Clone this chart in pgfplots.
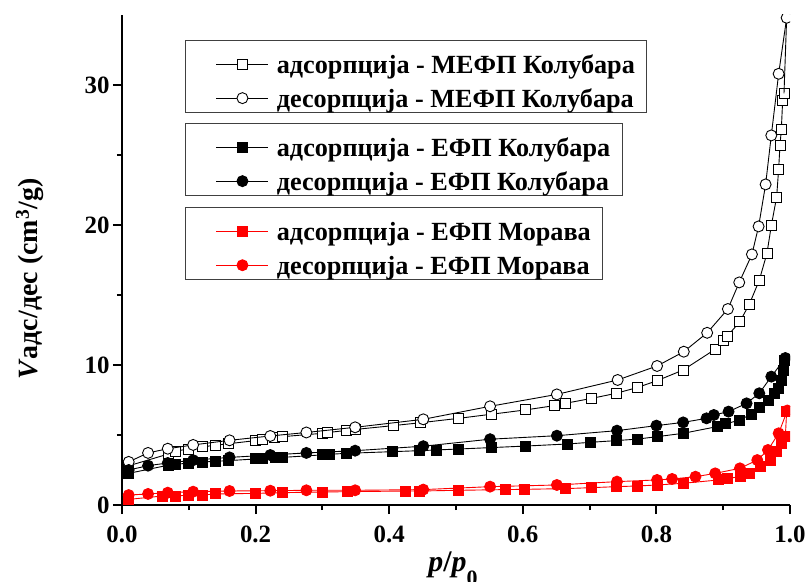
\documentclass[border=0pt]{standalone}
\usepackage{pgfplots}
\pgfplotsset{compat=1.18}
\usepackage{fontspec}
\setmainfont{Liberation Serif}

\pgfplotsset{
  base/.style={
    scale only axis, width=668bp, height=490bp,
    xmin=0, xmax=1, ymin=0, ymax=35,
    clip marker paths=true,
  },
  leg/.style={
    legend cell align=left,
    legend image code/.code={\path[draw=none,fill=none] (0bp,-5bp) -- (19bp,-5bp); \draw[mark repeat=2,mark phase=2] plot coordinates {(19bp,-5bp) (45bp,-5bp) (71bp,-5bp)};},
    legend style={at={(axis description cs:0.0943,#1)}, anchor=north west,
      draw=black!75, line width=0.9bp, inner xsep=12bp, inner ysep=5.3bp,
      row sep=5.4bp, column sep=8bp,
      nodes={inner sep=0bp, text height=28bp, text depth=0bp,
        font=\fontsize{26.3}{30}\selectfont\bfseries}},
  },
  ads/.style={line width=0.9bp, mark=square*, mark size=5bp, mark options={solid, line width=0.9bp}},
  des/.style={line width=0.9bp, mark=*, mark size=5.5bp, mark options={solid, line width=0.9bp}},
}

\begin{document}
\begin{tikzpicture}
\begin{axis}[base, leg=0.949,
  axis x line=bottom, axis y line=left,
  axis line style={-, line width=2.6bp, black},
  tick align=outside, major tick length=9bp, minor tick length=5bp,
  every tick/.append style={black, line width=2bp},
  xtick={0,0.2,0.4,0.6,0.8,1}, minor xtick={0.1,0.3,0.5,0.7,0.9},
  xticklabels={0.0,0.2,0.4,0.6,0.8,1.0},
  ytick={0,10,20,30}, minor ytick={5,15,25},
  yticklabels={0,10,20,30},
  tick label style={font=\fontsize{25}{30}\selectfont\bfseries},
  xticklabel style={anchor=base, yshift=-28bp},
  ylabel={\textbf{\textit{V}адс/дес (cm\textsuperscript{3}/g)}},
  ylabel style={at={(axis description cs:-0.1377,0.461)}, anchor=center,
    font=\fontsize{28}{32}\selectfont\bfseries},
  xlabel={\textbf{\textit{p}/\textit{p}\raisebox{-14bp}{\fontsize{22}{22}\selectfont 0}}},
  xlabel style={at={(axis description cs:0.4955,-0.1347)}, anchor=base,
    font=\fontsize{30}{34}\selectfont\bfseries},
]
\addplot[ads, black, mark options={fill=white, draw=black}] table {
0.01 2.8
0.07 3.65
0.08 3.85
0.10 4.0
0.12 4.15
0.14 4.27
0.16 4.38
0.20 4.6
0.21 4.65
0.228 4.83
0.24 4.88
0.30 5.12
0.3075 5.17
0.336 5.33
0.35 5.4
0.406 5.67
0.4475 5.88
0.504 6.19
0.5525 6.48
0.604 6.79
0.6475 7.1
0.6635 7.26
0.7035 7.62
0.74 7.98
0.772 8.4
0.801 8.88
0.84 9.64
0.8885 11.14
0.901 11.74
0.906 12.05
0.925 13.1
0.939 14.33
0.954 16.05
0.9655 17.98
0.972 19.95
0.98 22.0
0.983 24.0
0.985 25.7
0.987 26.8
0.989 28.9
0.991 29.4
};
\addlegendentry{адсорпција - МЕФП Колубара}
\addplot[black, line width=0.9bp, no marks, forget plot] table {
0.991 29.4
0.995 34.8
};
\addplot[des, black, mark options={fill=white, draw=black}] table {
0.995 34.8
0.983 30.8
0.972 26.4
0.9635 22.9
0.953 19.9
0.943 17.9
0.924 15.9
0.907 14.0
0.876 12.3
0.841 10.95
0.801 9.93
0.742 8.93
0.651 7.9
0.551 7.05
0.451 6.12
0.349 5.55
0.276 5.18
0.222 4.93
0.161 4.62
0.1065 4.29
0.0685 4.02
0.039 3.72
0.01 3.08
};
\addlegendentry{десорпција - МЕФП Колубара}
\end{axis}

\begin{axis}[base, leg=0.7796, hide axis]
\addplot[ads, black, mark options={fill=black, draw=black}] table {
0.01 2.26
0.07 2.85
0.08 2.9
0.10 3.0
0.12 3.07
0.14 3.12
0.16 3.17
0.20 3.29
0.21 3.33
0.23 3.38
0.24 3.40
0.30 3.58
0.31 3.62
0.336 3.69
0.405 3.81
0.445 3.88
0.47 3.93
0.504 4.0
0.5525 4.1
0.604 4.21
0.6675 4.36
0.702 4.48
0.74 4.6
0.772 4.71
0.801 4.88
0.84 5.12
0.891 5.6
0.904 5.8
0.925 6.07
0.942 6.5
0.954 6.98
0.967 7.45
0.977 7.98
0.983 8.33
0.987 8.93
0.99 9.64
0.992 10.3
};
\addlegendentry{адсорпција - ЕФП Колубара}
\addplot[des, black, mark options={fill=black, draw=black}] table {
0.993 10.5
0.972 9.17
0.954 7.98
0.935 7.26
0.908 6.67
0.886 6.43
0.875 6.19
0.84 5.9
0.8 5.67
0.741 5.31
0.651 4.95
0.551 4.7
0.451 4.2
0.349 3.88
0.276 3.72
0.222 3.57
0.161 3.4
0.1065 3.2
0.0685 3.0
0.039 2.81
0.01 2.5
};
\addlegendentry{десорпција - ЕФП Колубара}
\end{axis}

\begin{axis}[base, leg=0.608, hide axis]
\addplot[ads, red, mark options={fill=red, draw=red}] table {
0.01 0.40
0.06 0.64
0.08 0.64
0.10 0.71
0.12 0.71
0.14 0.79
0.20 0.83
0.24 0.88
0.30 0.93
0.3375 0.95
0.425 1.0
0.446 1.0
0.504 1.05
0.5735 1.1
0.603 1.12
0.664 1.17
0.7035 1.24
0.74 1.31
0.772 1.36
0.801 1.43
0.84 1.55
0.8935 1.79
0.906 1.9
0.926 2.02
0.939 2.26
0.956 2.74
0.97 3.17
0.98 3.81
0.987 4.4
0.993 4.88
0.995 6.7
};
\addlegendentry{адсорпција - ЕФП Морава}
\addplot[des, red, mark options={fill=red, draw=red}] table {
0.996 6.75
0.983 5.12
0.967 3.93
0.951 3.21
0.925 2.62
0.888 2.26
0.8585 2.02
0.8235 1.86
0.801 1.79
0.741 1.67
0.651 1.43
0.551 1.31
0.451 1.1
0.349 1.05
0.276 1.05
0.222 1.02
0.161 1.0
0.1065 0.95
0.0685 0.88
0.039 0.79
0.01 0.71
};
\addlegendentry{десорпција - ЕФП Морава}
\end{axis}
\pgfresetboundingbox
\path[use as bounding box] (-122bp,-77bp) rectangle (684bp,505bp);
\end{tikzpicture}
\end{document}
